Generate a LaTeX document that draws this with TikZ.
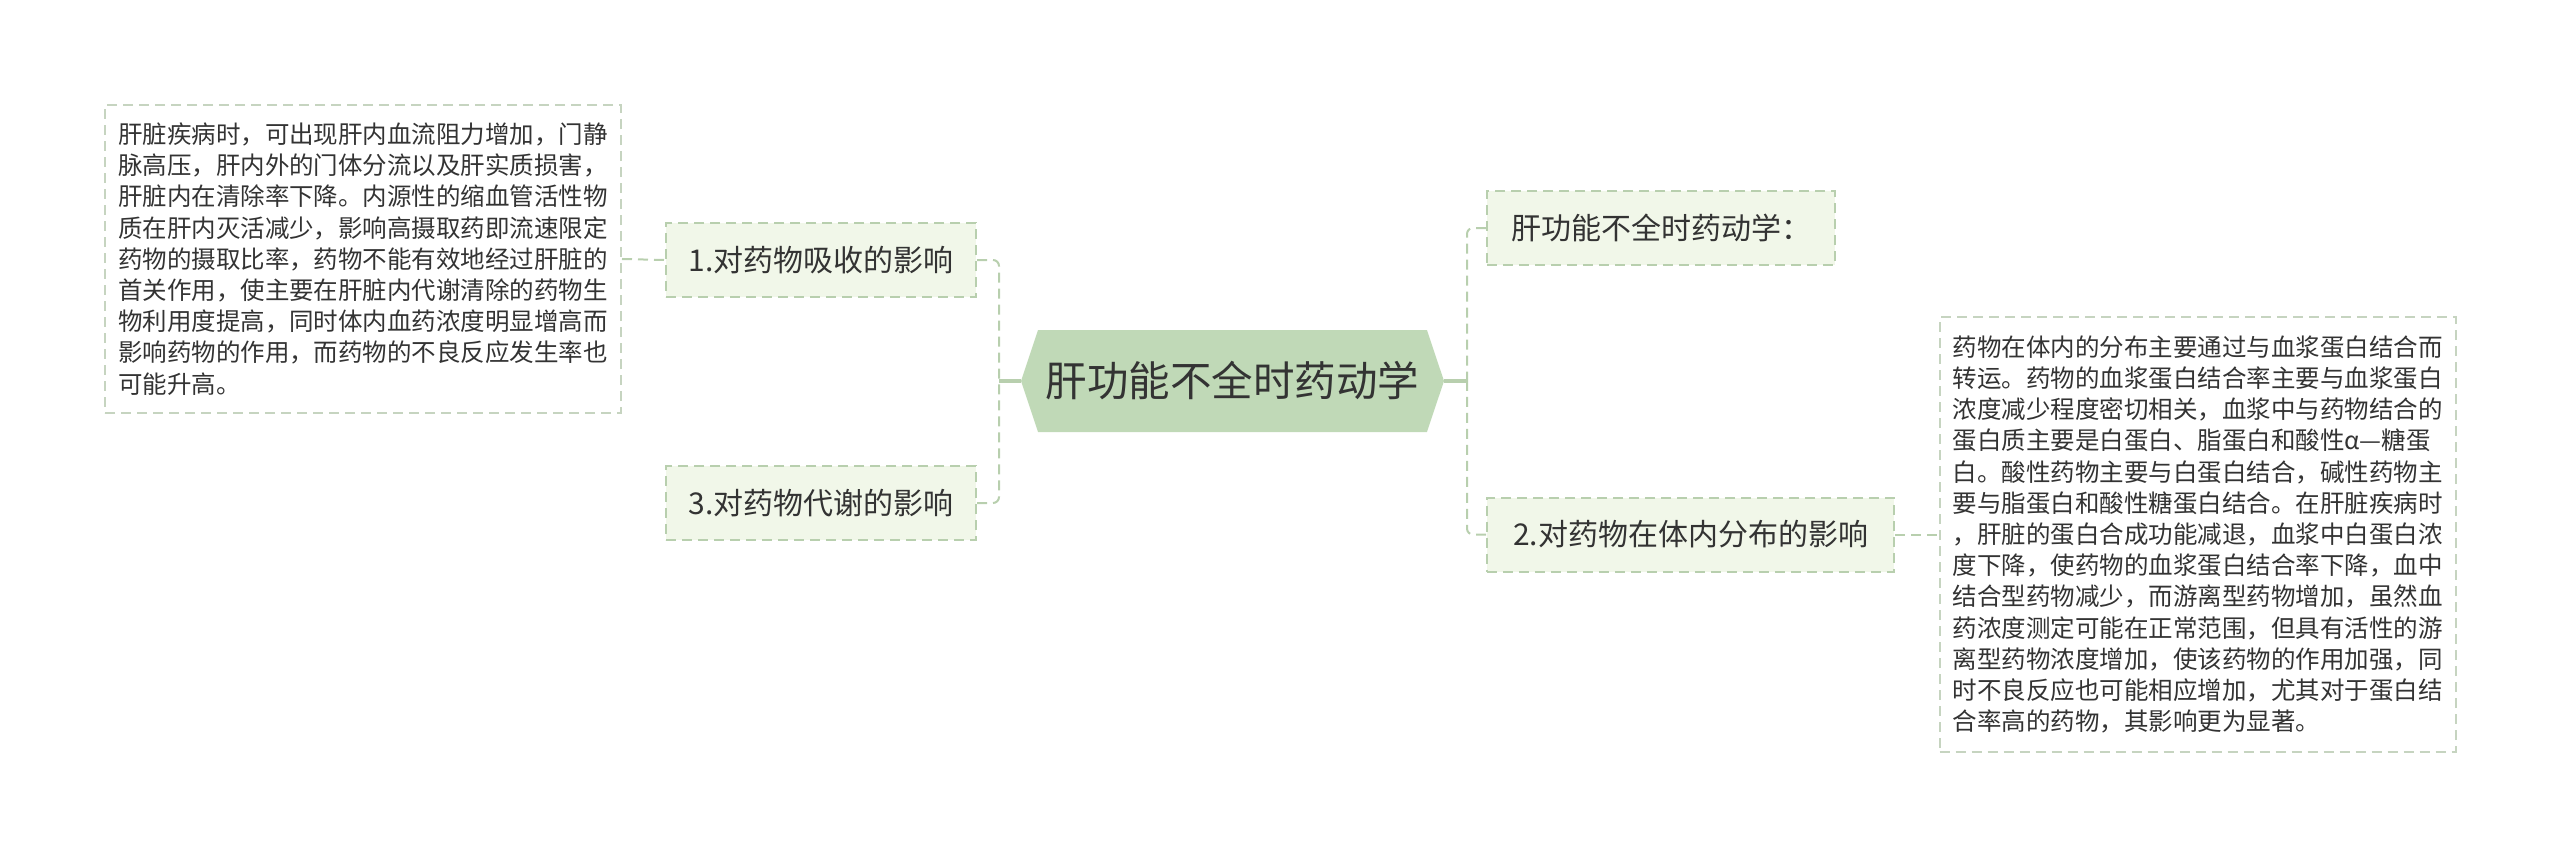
\documentclass[tikz,border=0pt]{standalone}
\usepackage{fontspec}
\setmainfont{Noto Sans CJK SC}
\usepackage{xcolor}
\usepackage{tikz}
\usetikzlibrary{shapes.symbols}
\definecolor{ink}{RGB}{51,51,51}
\definecolor{hubfill}{RGB}{192,217,183}
\definecolor{leaffill}{RGB}{241,247,233}
\definecolor{leafrule}{RGB}{184,207,174}
\definecolor{noterule}{RGB}{198,212,192}
\tikzset{
  stem/.style={line width=1.6pt,draw=leafrule},
  link/.style={line width=1pt,draw=leafrule,dash pattern=on 5pt off 3pt,rounded corners=3pt},
  hub/.style={shape=signal,signal to=west and east,signal pointer angle=143,fill=hubfill,draw=none,
    text=ink,inner sep=0pt,font=\fontsize{20.75pt}{24pt}\selectfont},
  leaf/.style={draw=leafrule,line width=1pt,dash pattern=on 5pt off 3pt,fill=leaffill,text=ink,
    minimum height=37pt,inner xsep=8.5pt,font=\fontsize{15pt}{18pt}\selectfont},
  note/.style={draw=noterule,line width=1pt,dash pattern=on 5pt off 3pt,fill=white,text=ink,
    align=left,text width=245pt,inner xsep=6.5pt,minimum width=258pt,
    font=\fontsize{12.25pt}{15.6pt}\selectfont}
}
\begin{document}
\begin{tikzpicture}[x=0.5pt,y=-0.5pt]
  \useasboundingbox (0,0) rectangle (2560,857);
  \node[hub,minimum width=211.5pt,minimum height=51pt] (hub) at (1232.5,381) {肝功能不全时药动学};
  \node[leaf,minimum width=155pt] (absorb) at (821,260) {1.对药物吸收的影响};
  \node[leaf,minimum width=155pt] (metab) at (821,503) {3.对药物代谢的影响};
  \node[leaf,minimum width=174pt] (title) at (1661,228) {肝功能不全时药动学：};
  \node[leaf,minimum width=203.5pt] (distrib) at (1690.5,534.5) {2.对药物在体内分布的影响};
  \node[note,minimum height=154pt] (absorbnote) at (363,259) {肝脏疾病时，可出现肝内血流阻力增加，门静\\脉高压，肝内外的门体分流以及肝实质损害，\\肝脏内在清除率下降。内源性的缩血管活性物\\质在肝内灭活减少，影响高摄取药即流速限定\\药物的摄取比率，药物不能有效地经过肝脏的\\首关作用，使主要在肝脏内代谢清除的药物生\\物利用度提高，同时体内血药浓度明显增高而\\影响药物的作用，而药物的不良反应发生率也\\可能升高。};
  \node[note,minimum height=217.5pt] (distribnote) at (2197.5,534.5) {药物在体内的分布主要通过与血浆蛋白结合而\\转运。药物的血浆蛋白结合率主要与血浆蛋白\\浓度减少程度密切相关，血浆中与药物结合的\\蛋白质主要是白蛋白、脂蛋白和酸性α—糖蛋\\白。酸性药物主要与白蛋白结合，碱性药物主\\要与脂蛋白和酸性糖蛋白结合。在肝脏疾病时\\，肝脏的蛋白合成功能减退，血浆中白蛋白浓\\度下降，使药物的血浆蛋白结合率下降，血中\\结合型药物减少，而游离型药物增加，虽然血\\药浓度测定可能在正常范围，但具有活性的游\\离型药物浓度增加，使该药物的作用加强，同\\时不良反应也可能相应增加，尤其对于蛋白结\\合率高的药物，其影响更为显著。};
  \coordinate (ljoint) at (999,381);
  \coordinate (rjoint) at (1467,381);
  \draw[stem] (hub.west) -- (ljoint);
  \draw[stem] (hub.east) -- (rjoint);
  \draw[link] (absorb.east) -| (ljoint);
  \draw[link] (metab.east) -| (ljoint);
  \draw[link] (title.west) -| (rjoint);
  \draw[link] (distrib.west) -| (rjoint);
  \draw[link] (absorbnote.east) -- (absorb.west);
  \draw[link] (distrib.east) -- (distribnote.west);
\end{tikzpicture}
\end{document}
